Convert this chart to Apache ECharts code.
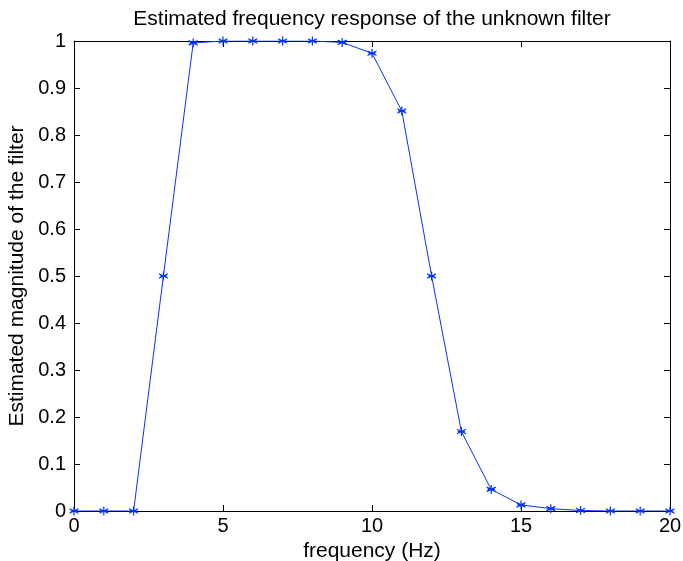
<!DOCTYPE html>
<html><head><meta charset="utf-8">
<script src="https://cdn.jsdelivr.net/npm/echarts@6/dist/echarts.min.js"></script>
<style>html,body{margin:0;padding:0;background:#fff}#c{width:683px;height:561px}</style>
</head><body><div id="c"></div>
<script>
var frequency = [0,1,2,3,4,5,6,7,8,9,10,11,12,13,14,15,16,17,18,19,20];
var magnitude = [0,0,0,0.5,0.996,1,1,1,1,0.997,0.974,0.851,0.5,0.169,0.046,0.013,0.005,0.001,0,0,0];
var titleText = 'Estimated frequency response of the unknown filter';
var xLabel = 'frequency (Hz)';
var yLabel = 'Estimated magnitude of the filter';

var font = 'Liberation Sans, Arial, Helvetica, sans-serif';
var chart = echarts.init(document.getElementById('c'));
var data = frequency.map(function(f,i){return [f, magnitude[i]];});
function axisBase(){
  return {
    type:'value', min:0, max:20, interval:5,
    axisLine:{show:true,onZero:false,lineStyle:{color:'#000',width:1}},
    axisTick:{show:true,inside:true,length:6,lineStyle:{color:'#000'}},
    splitLine:{show:false}
  };
}
var xMain = axisBase(); xMain.position='bottom';
xMain.axisLabel={color:'#000',fontSize:20,fontFamily:font,margin:5};
xMain.name=xLabel; xMain.nameLocation='middle'; xMain.nameGap=29;
xMain.nameTextStyle={color:'#000',fontSize:21,fontFamily:font};
var xTop = axisBase(); xTop.position='top'; xTop.axisLabel={show:false};
var yMain = axisBase(); yMain.min=0; yMain.max=1; yMain.interval=0.1; yMain.position='left';
yMain.axisLabel={color:'#000',fontSize:20,fontFamily:font,margin:8,formatter:function(v){return String(Math.round(v*10)/10);}};
yMain.name=yLabel; yMain.nameLocation='middle'; yMain.nameGap=38; yMain.nameRotate=90;
yMain.nameTextStyle={color:'#000',fontSize:21,fontFamily:font};
var yRight = axisBase(); yRight.min=0; yRight.max=1; yRight.interval=0.1; yRight.position='right'; yRight.axisLabel={show:false};

chart.setOption({
  animation:false,
  backgroundColor:'#fff',
  title:{text:titleText,left:367,top:4,textAlign:'center',textStyle:{color:'#000',fontSize:21,fontWeight:'normal',fontFamily:font}},
  grid:{left:74,right:13,top:41,bottom:50,containLabel:false,outerBoundsMode:'none'},
  xAxis:[xMain,xTop],
  yAxis:[yMain,yRight],
  series:[{
    type:'line', xAxisIndex:0, yAxisIndex:0, data:data,
    symbol:'path://M0,-10L0,10M-8.66,-5L8.66,5M-8.66,5L8.66,-5M-7,0L7,0',
    symbolSize:9,
    showAllSymbol:true,
    lineStyle:{color:'#0033ff',width:1},
    itemStyle:{color:'#0033ff',borderColor:'#0033ff',borderWidth:1.2}
  }]
});
</script></body></html>
